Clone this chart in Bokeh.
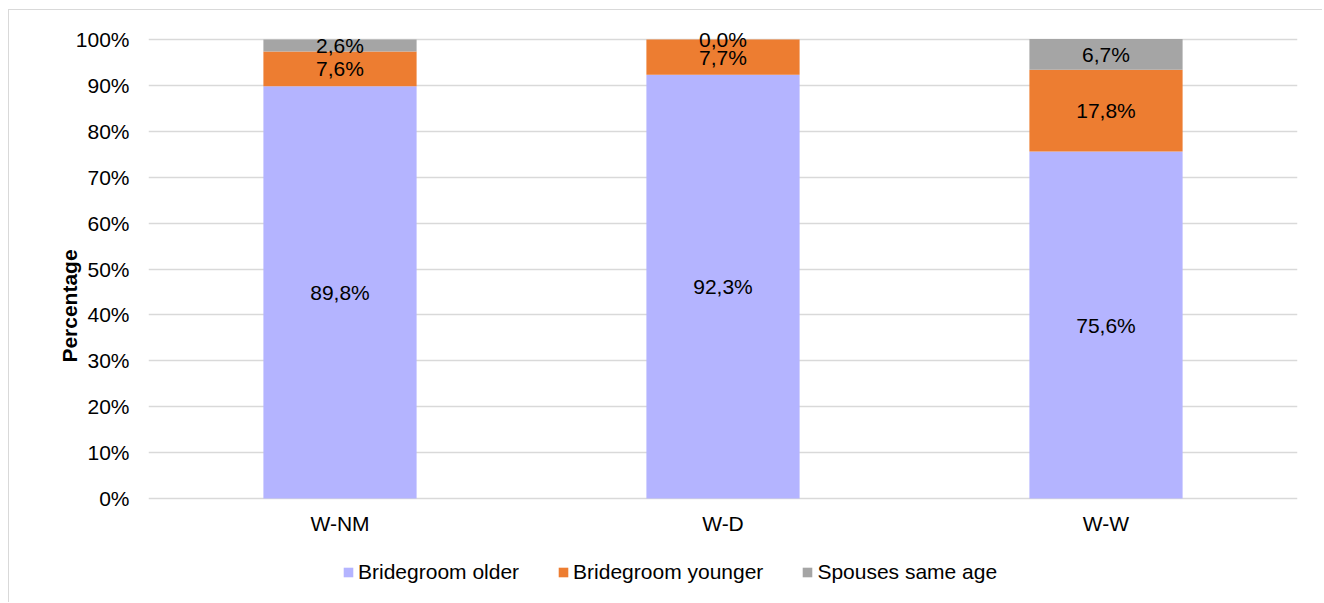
from bokeh.plotting import figure
from bokeh.models import ColumnDataSource, FactorRange, NumeralTickFormatter, Legend, LegendItem, Range1d, FixedTicker
from bokeh.embed import file_html
from bokeh.resources import INLINE
from bokeh.core.properties import value

categories = ["W-NM", "W-D", "W-W"]
older = [89.8, 92.3, 75.6]
younger = [7.6, 7.7, 17.8]
same_age = [2.6, 0.0, 6.7]
series_names = ["Bridegroom older", "Bridegroom younger", "Spouses same age"]
colors = ["#B4B4FF", "#ED7D31", "#A5A5A5"]
y_ticks = [0, 0.1, 0.2, 0.3, 0.4, 0.5, 0.6, 0.7, 0.8, 0.9, 1.0]

FONT = "Liberation Sans"
FS = "21px"

data = {"cat": categories,
        "older": [v / 100 for v in older],
        "younger": [v / 100 for v in younger],
        "same": [v / 100 for v in same_age]}
src = ColumnDataSource(data)

# frame extended below 0 and slightly above 100% so the legend and top labels are not clipped
p = figure(x_range=FactorRange(*categories), y_range=Range1d(-0.1917, 1.0305),
           width=1314, height=593, output_backend="svg", toolbar_location=None,
           min_border_left=139, min_border_right=26, min_border_top=15, min_border_bottom=17)
p.styles = {"margin": "9px 0px 0px 8px", "border-top": "1px solid #d9d9d9",
            "border-left": "1px solid #d9d9d9"}
p.outline_line_color = None

renderers = p.vbar_stack(["older", "younger", "same"], x="cat", width=0.4, source=src,
                         color=colors, line_color=None)

# labels
lab_x, lab_y, lab_t = [], [], []
for i, c in enumerate(categories):
    base = 0.0
    for vals in (older, younger, same_age):
        v = vals[i]
        lab_x.append(c)
        lab_y.append((base + v / 2) / 100)
        lab_t.append(f"{v:.1f}".replace(".", ",") + "%")
        base += v
lsrc = ColumnDataSource(dict(x=lab_x, y=lab_y, t=lab_t))
p.text(x="x", y="y", text="t", source=lsrc, text_align="center", text_baseline="middle",
       text_font=value(FONT), text_font_size=FS, text_color="black")

# axes
p.yaxis.ticker = FixedTicker(ticks=y_ticks)
p.yaxis.formatter = NumeralTickFormatter(format="0%")
p.yaxis.axis_line_color = None
p.yaxis.major_tick_line_color = None
p.yaxis.minor_tick_line_color = None
p.yaxis.major_label_standoff = 13
p.yaxis.major_label_text_font = FONT
p.yaxis.major_label_text_font_size = FS
p.yaxis.major_label_text_color = "black"
p.yaxis.axis_label = "Percentage"
p.yaxis.axis_label_text_font = FONT
p.yaxis.axis_label_text_font_size = FS
p.yaxis.axis_label_text_font_style = "bold"
p.yaxis.axis_label_text_color = "black"
p.yaxis.axis_label_standoff = -8

p.xaxis.fixed_location = 0
p.xaxis.axis_line_color = None
p.xaxis.major_tick_line_color = None
p.xaxis.minor_tick_line_color = None
p.xaxis.major_label_standoff = 7
p.xaxis.major_label_text_font = FONT
p.xaxis.major_label_text_font_size = FS
p.xaxis.major_label_text_color = "black"

p.xgrid.grid_line_color = None
p.ygrid.ticker = FixedTicker(ticks=y_ticks)
p.ygrid.grid_line_color = "#D9D9D9"
p.ygrid.grid_line_width = 1.5

legend = Legend(items=[LegendItem(label=n, renderers=[r]) for n, r in zip(series_names, renderers)],
                orientation="horizontal", location=(194, 2),
                label_text_font=FONT, label_text_font_size=FS, label_text_color="black",
                glyph_width=12, glyph_height=12, label_standoff=4, spacing=38,
                padding=0, margin=0, border_line_color=None, background_fill_alpha=0)
p.add_layout(legend, "center")

open("out.html", "w").write(file_html(p, INLINE))
